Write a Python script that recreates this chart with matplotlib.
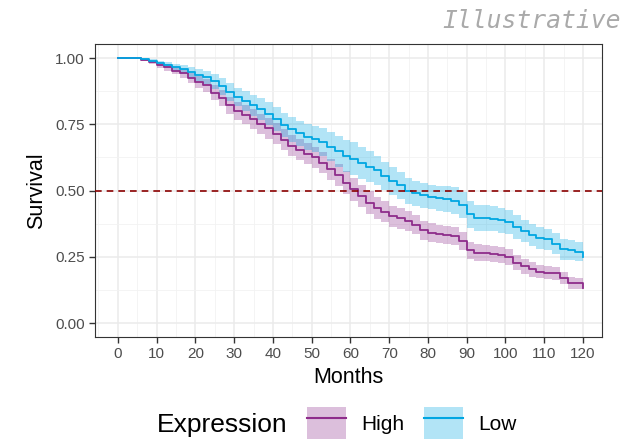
import matplotlib
matplotlib.use("Agg")
import matplotlib.pyplot as plt
import numpy as np
from matplotlib.patches import Patch
from matplotlib.lines import Line2D
from matplotlib.ticker import MultipleLocator

plt.rcParams['font.family'] = ['Liberation Sans', 'DejaVu Sans']

# survival estimates read every 2 months, 0..120
months = list(range(0, 121, 2))
high = [1.0, 1.0, 1.0, 0.993, 0.985, 0.974, 0.965, 0.953, 0.942, 0.925,
        0.910, 0.897, 0.870, 0.848, 0.822, 0.800, 0.787, 0.770, 0.752, 0.735,
        0.714, 0.692, 0.670, 0.655, 0.640, 0.625, 0.605, 0.580, 0.560, 0.530,
        0.505, 0.480, 0.455, 0.435, 0.420, 0.403, 0.395, 0.385, 0.372, 0.350,
        0.342, 0.337, 0.333, 0.328, 0.310, 0.275, 0.265, 0.265, 0.262, 0.257,
        0.250, 0.228, 0.215, 0.203, 0.195, 0.190, 0.188, 0.170, 0.152, 0.150,
        0.133]
low = [1.0, 1.0, 1.0, 0.995, 0.990, 0.980, 0.973, 0.965, 0.957, 0.946,
       0.937, 0.928, 0.912, 0.893, 0.872, 0.853, 0.838, 0.822, 0.808, 0.790,
       0.770, 0.748, 0.731, 0.716, 0.703, 0.694, 0.684, 0.665, 0.648, 0.632,
       0.620, 0.605, 0.590, 0.576, 0.555, 0.537, 0.520, 0.500, 0.490, 0.482,
       0.476, 0.471, 0.467, 0.462, 0.445, 0.410, 0.397, 0.397, 0.394, 0.388,
       0.382, 0.363, 0.348, 0.332, 0.322, 0.316, 0.300, 0.278, 0.275, 0.270,
       0.250]
# confidence band half widths
high_ci = [0.0, 0.0, 0.002, 0.005, 0.008, 0.010, 0.012, 0.014, 0.017, 0.020,
           0.022, 0.025, 0.028, 0.030, 0.032, 0.035, 0.036, 0.037, 0.038, 0.039,
           0.040, 0.040, 0.040, 0.040, 0.040, 0.040, 0.040, 0.041, 0.042, 0.043,
           0.044, 0.043, 0.042, 0.041, 0.040, 0.040, 0.039, 0.038, 0.037, 0.036,
           0.035, 0.035, 0.034, 0.034, 0.033, 0.032, 0.032, 0.031, 0.031, 0.030,
           0.030, 0.029, 0.028, 0.027, 0.026, 0.025, 0.024, 0.023, 0.022, 0.021,
           0.020]
low_ci = [0.0, 0.0, 0.002, 0.004, 0.007, 0.010, 0.012, 0.014, 0.016, 0.020,
          0.022, 0.025, 0.028, 0.031, 0.033, 0.035, 0.037, 0.039, 0.041, 0.043,
          0.045, 0.046, 0.047, 0.048, 0.049, 0.050, 0.052, 0.055, 0.058, 0.060,
          0.062, 0.060, 0.058, 0.056, 0.054, 0.052, 0.050, 0.049, 0.048, 0.047,
          0.047, 0.048, 0.049, 0.050, 0.050, 0.050, 0.049, 0.048, 0.047, 0.046,
          0.045, 0.044, 0.043, 0.042, 0.041, 0.040, 0.039, 0.038, 0.038, 0.037,
          0.037]

high_col = '#8E2C8B'
low_col = '#00A6E2'

fig = plt.figure(figsize=(6.26, 4.42), dpi=100)
ax = fig.add_axes([95/626, 1-337/442, 507/626, 293/442])

m = np.array(months)
for vals, ci, col in [(high, high_ci, high_col), (low, low_ci, low_col)]:
    v = np.array(vals)
    c = np.array(ci)
    ax.fill_between(m, v - c, v + c, step='post', color=col, alpha=0.3, lw=0, zorder=2)
for vals, col in [(high, high_col), (low, low_col)]:
    ax.step(m, vals, where='post', color=col, lw=1.3, zorder=3)

ax.axhline(0.5, color='#8B0000', ls=(0, (4, 3)), lw=1.2, zorder=4)

ax.set_xlim(-5.9, 124.9)
ax.set_ylim(-0.052, 1.053)
ax.set_xticks(np.arange(0, 121, 10))
ax.set_yticks([0, 0.25, 0.5, 0.75, 1.0])
ax.set_yticklabels(['0.00', '0.25', '0.50', '0.75', '1.00'])
ax.xaxis.set_minor_locator(MultipleLocator(5))
ax.yaxis.set_minor_locator(MultipleLocator(0.125))
ax.grid(which='major', color='#EBEBEB', lw=1.1, zorder=0)
ax.grid(which='minor', color='#F2F2F2', lw=0.6, zorder=0)
ax.set_axisbelow(True)
ax.tick_params(which='major', length=4, width=1, color='#333333',
               labelcolor='#4D4D4D', labelsize=11)
ax.tick_params(which='minor', length=0)
for s in ax.spines.values():
    s.set_color('#333333')
    s.set_linewidth(0.8)

ax.set_xlabel('Months', fontsize=15.5, labelpad=4)
ax.set_ylabel('Survival', fontsize=15.5, labelpad=6)

fig.text(0.991, 0.98, 'Illustrative', ha='right', va='top', fontsize=17.8,
         style='italic', family='DejaVu Sans Mono', color='#AAAAAA')

fig.text(157/626, 1-425/442, 'Expression', fontsize=19, va='center', ha='left')
handles = [(Patch(facecolor=high_col, alpha=0.3, lw=0), Line2D([], [], color=high_col, lw=1.5)),
           (Patch(facecolor=low_col, alpha=0.3, lw=0), Line2D([], [], color=low_col, lw=1.5))]
fig.legend(handles, ['High', 'Low'], ncol=2, frameon=False, fontsize=15,
           loc='center left', bbox_to_anchor=(307/626, 1-423/442),
           handlelength=1.85, handleheight=2.05, handletextpad=0.75,
           columnspacing=0.95, borderpad=0, borderaxespad=0)

fig.savefig('out.png', dpi=100)
